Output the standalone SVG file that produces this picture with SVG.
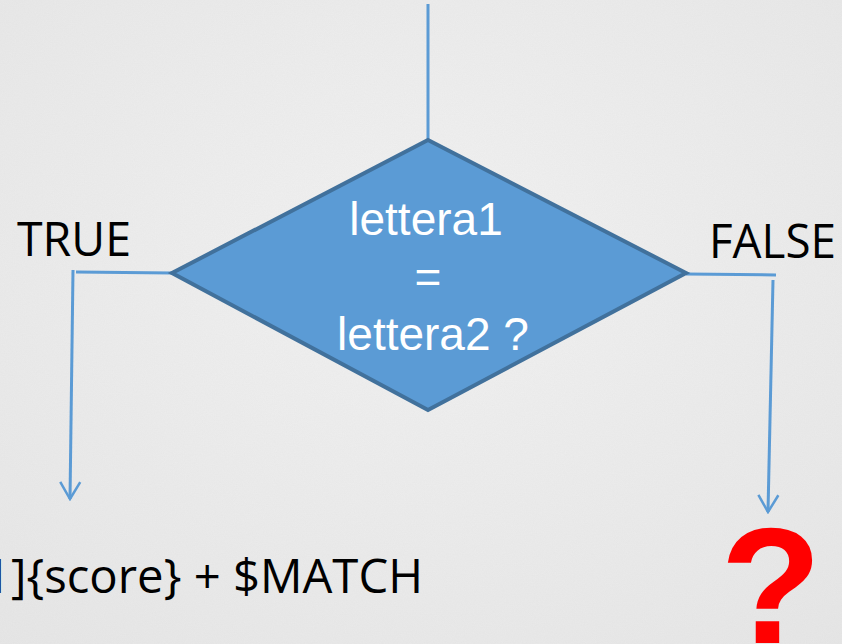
<svg xmlns="http://www.w3.org/2000/svg" width="842" height="644" viewBox="0 0 842 644">
  <defs>
    <radialGradient id="bg" cx="0.5" cy="0.4" r="0.8">
      <stop offset="0" stop-color="#F2F2F2"/>
      <stop offset="1" stop-color="#E6E6E6"/>
    </radialGradient>
    <filter id="grain" x="0" y="0" width="100%" height="100%">
      <feTurbulence type="fractalNoise" baseFrequency="0.9" numOctaves="2" seed="3" result="n"/>
      <feColorMatrix in="n" type="matrix" values="0 0 0 0 0.5  0 0 0 0 0.5  0 0 0 0 0.5  0 0 0 0.10 0"/>
    </filter>
    <!-- open chevron arrowhead, drawn along +x so orient="auto" follows the line -->
    <marker id="arrow" viewBox="0 0 20 24" refX="18" refY="12" markerWidth="20" markerHeight="24" markerUnits="userSpaceOnUse" orient="auto">
      <path d="M1 2 L18 12 L1 22" fill="none" stroke="#5B9BD5" stroke-width="2.5"/>
    </marker>
    <style>
      .conn { fill: none; stroke: #5B9BD5; stroke-width: 3; }
      .label { font-family: "Open Sans", "DejaVu Sans", sans-serif; fill: #000; }
      .dtext { font-family: "Liberation Sans", Arial, sans-serif; font-size: 46px; fill: #FFFFFF; text-anchor: middle; }
    </style>
  </defs>

  <!-- background -->
  <rect width="842" height="644" fill="url(#bg)"/>
  <rect width="842" height="644" filter="url(#grain)"/>

  <!-- connectors -->
  <g id="connectors">
    <line class="conn" x1="428" y1="4" x2="428" y2="140"/>
    <polyline class="conn" points="172,273 76,272"/>
    <line class="conn" x1="73" y1="270" x2="70" y2="499" marker-end="url(#arrow)"/>
    <polyline class="conn" points="686,274 776,275"/>
    <line class="conn" x1="773" y1="280" x2="768" y2="512" marker-end="url(#arrow)"/>
  </g>

  <!-- decision -->
  <g id="decision">
    <polygon points="428,140 686,273 428,410 172,273" fill="#5B9BD5" stroke="#41719C" stroke-width="4" stroke-linejoin="miter"/>
    <text class="dtext" x="426" y="235">lettera1</text>
    <text class="dtext" x="428" y="293">=</text>
    <text class="dtext" x="433" y="350">lettera2 ?</text>
  </g>

  <!-- branch labels -->
  <g id="label-true">
    <text class="label" x="17" y="256" font-size="47" textLength="114" lengthAdjust="spacingAndGlyphs">TRUE</text>
  </g>
  <g id="label-false">
    <text class="label" x="709" y="258" font-size="47" textLength="127" lengthAdjust="spacingAndGlyphs">FALSE</text>
  </g>

  <!-- true outcome -->
  <g id="outcome-true">
    <text class="label" x="-16" y="593" font-size="48" textLength="439" lengthAdjust="spacingAndGlyphs">1]{score} + $MATCH</text>
  </g>

  <!-- false outcome -->
  <g id="outcome-false">
    <text x="771" y="643" font-family="Liberation Sans, Arial, sans-serif" font-weight="bold" font-size="166" fill="#FF0000" text-anchor="middle">?</text>
  </g>
</svg>
